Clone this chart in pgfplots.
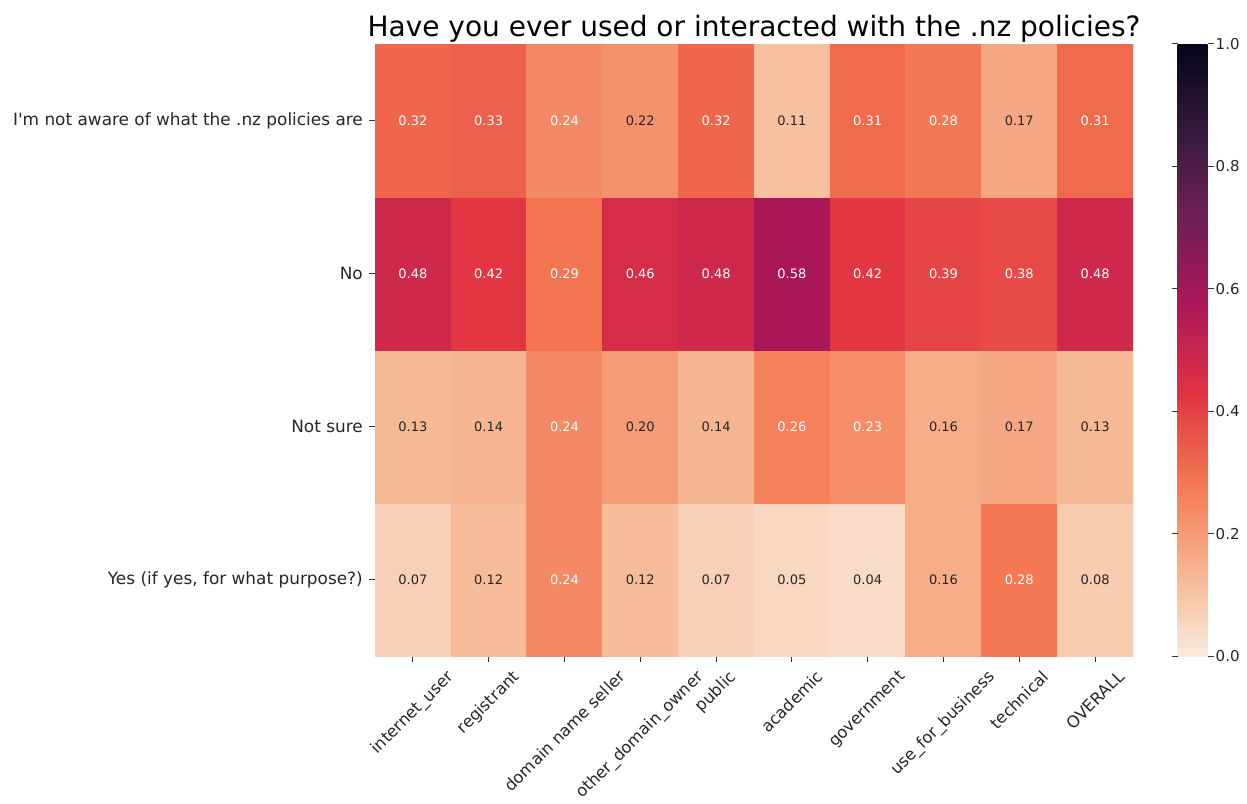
\documentclass[border=0pt]{standalone}
\usepackage{pgfplots}
\pgfplotsset{compat=1.18}
\usepackage{pgfplotstable}
\usepackage{graphicx}
\usepackage{fontspec}
\setmainfont{DejaVu Sans}
\definecolor{annot}{HTML}{262626}
\definecolor{tickc}{HTML}{333333}

% x = category, y = row (0 = bottom row), v = share, w = 1 for white label
\pgfplotstableread{
x y v w
0 0 0.07 0
1 0 0.12 0
2 0 0.24 1
3 0 0.12 0
4 0 0.07 0
5 0 0.05 0
6 0 0.04 0
7 0 0.16 0
8 0 0.28 1
9 0 0.08 0
0 1 0.13 0
1 1 0.14 0
2 1 0.24 1
3 1 0.20 0
4 1 0.14 0
5 1 0.26 1
6 1 0.23 1
7 1 0.16 0
8 1 0.17 0
9 1 0.13 0
0 2 0.48 1
1 2 0.42 1
2 2 0.29 1
3 2 0.46 1
4 2 0.48 1
5 2 0.58 1
6 2 0.42 1
7 2 0.39 1
8 2 0.38 1
9 2 0.48 1
0 3 0.32 1
1 3 0.33 1
2 3 0.24 1
3 3 0.22 0
4 3 0.32 1
5 3 0.11 0
6 3 0.31 1
7 3 0.28 1
8 3 0.17 0
9 3 0.31 1
}\heat

\begin{document}
\begin{tikzpicture}
\path[use as bounding box] (-375pt,-147pt) rectangle (872pt,656pt);
\begin{axis}[
  at={(0,0)}, anchor=south west,
  width=758pt, height=612pt, scale only axis,
  xmin=-0.5, xmax=9.5, ymin=-0.5, ymax=3.5,
  axis line style={draw=none},
  colormap={rocketr}{rgb255=(250,235,221) rgb255=(246,180,143) rgb255=(243,118,81) rgb255=(225,51,66) rgb255=(173,23,89) rgb255=(112,31,87) rgb255=(53,25,62) rgb255=(3,5,26)},
  point meta min=0, point meta max=1,
  xtick={0,...,9}, ytick={0,...,3},
  xtick pos=left, ytick pos=left,
  tick align=outside, major tick length=6pt,
  tick style={line width=1pt, color=tickc},
  xticklabels={\rotatebox{45}{internet\_user},\rotatebox{45}{registrant},\rotatebox{45}{domain name seller},\rotatebox{45}{other\_domain\_owner},\rotatebox{45}{public},\rotatebox{45}{academic},\rotatebox{45}{government},\rotatebox{45}{use\_for\_business},\rotatebox{45}{technical},\rotatebox{45}{OVERALL}},
  yticklabels={Yes (if yes{,} for what purpose?),Not sure,No,I\textquotesingle m not aware of what the .nz policies are},
  x tick label style={font=\fontsize{16.3}{19}\selectfont, anchor=north, inner sep=0pt, yshift=-7pt, text=annot},
  y tick label style={font=\fontsize{16.9}{20}\selectfont, anchor=east, inner sep=0pt, xshift=-6pt, text=annot},
  title={Have you ever used or interacted with the .nz policies?},
  title style={font=\fontsize{28}{32}\selectfont, at={(0.5,1)}, anchor=base, yshift=1.5pt, inner sep=0pt, text=black},
  /pgf/number format/assume math mode=true,
  colorbar,
  colorbar/width=30pt,
  colorbar style={
    at={(parent axis.north east)}, anchor=north west, xshift=36pt,
    height=612pt, scale only axis,
    ytick={0,0.2,0.4,0.6,0.8,1},
    axis line style={draw=none},
    tick align=outside, major tick length=6pt,
    tick style={line width=1pt, color=tickc},
    yticklabel style={font=\fontsize{15}{18}\selectfont, inner sep=0pt, xshift=2pt, anchor=west, text=annot,
      /pgf/number format/.cd, fixed, fixed zerofill, precision=1, assume math mode=true},
  },
]
\addplot[matrix plot*, mesh/cols=10, mesh/rows=4, point meta=\thisrow{v}] table[x=x, y=y] {\heat};
\addplot[only marks, mark=none, point meta=\thisrow{v},
  visualization depends on={\thisrow{w} \as \wc},
  nodes near coords={\ifdim\wc pt>0.5pt \color{white}\else\color{annot}\fi\pgfmathprintnumber[fixed,fixed zerofill,precision=2,assume math mode=true]{\pgfplotspointmeta}},
  every node near coord/.append style={anchor=center, inner sep=0pt, font=\fontsize{13}{15}\selectfont}]
  table[x=x, y=y] {\heat};
\end{axis}
\end{tikzpicture}
\end{document}
